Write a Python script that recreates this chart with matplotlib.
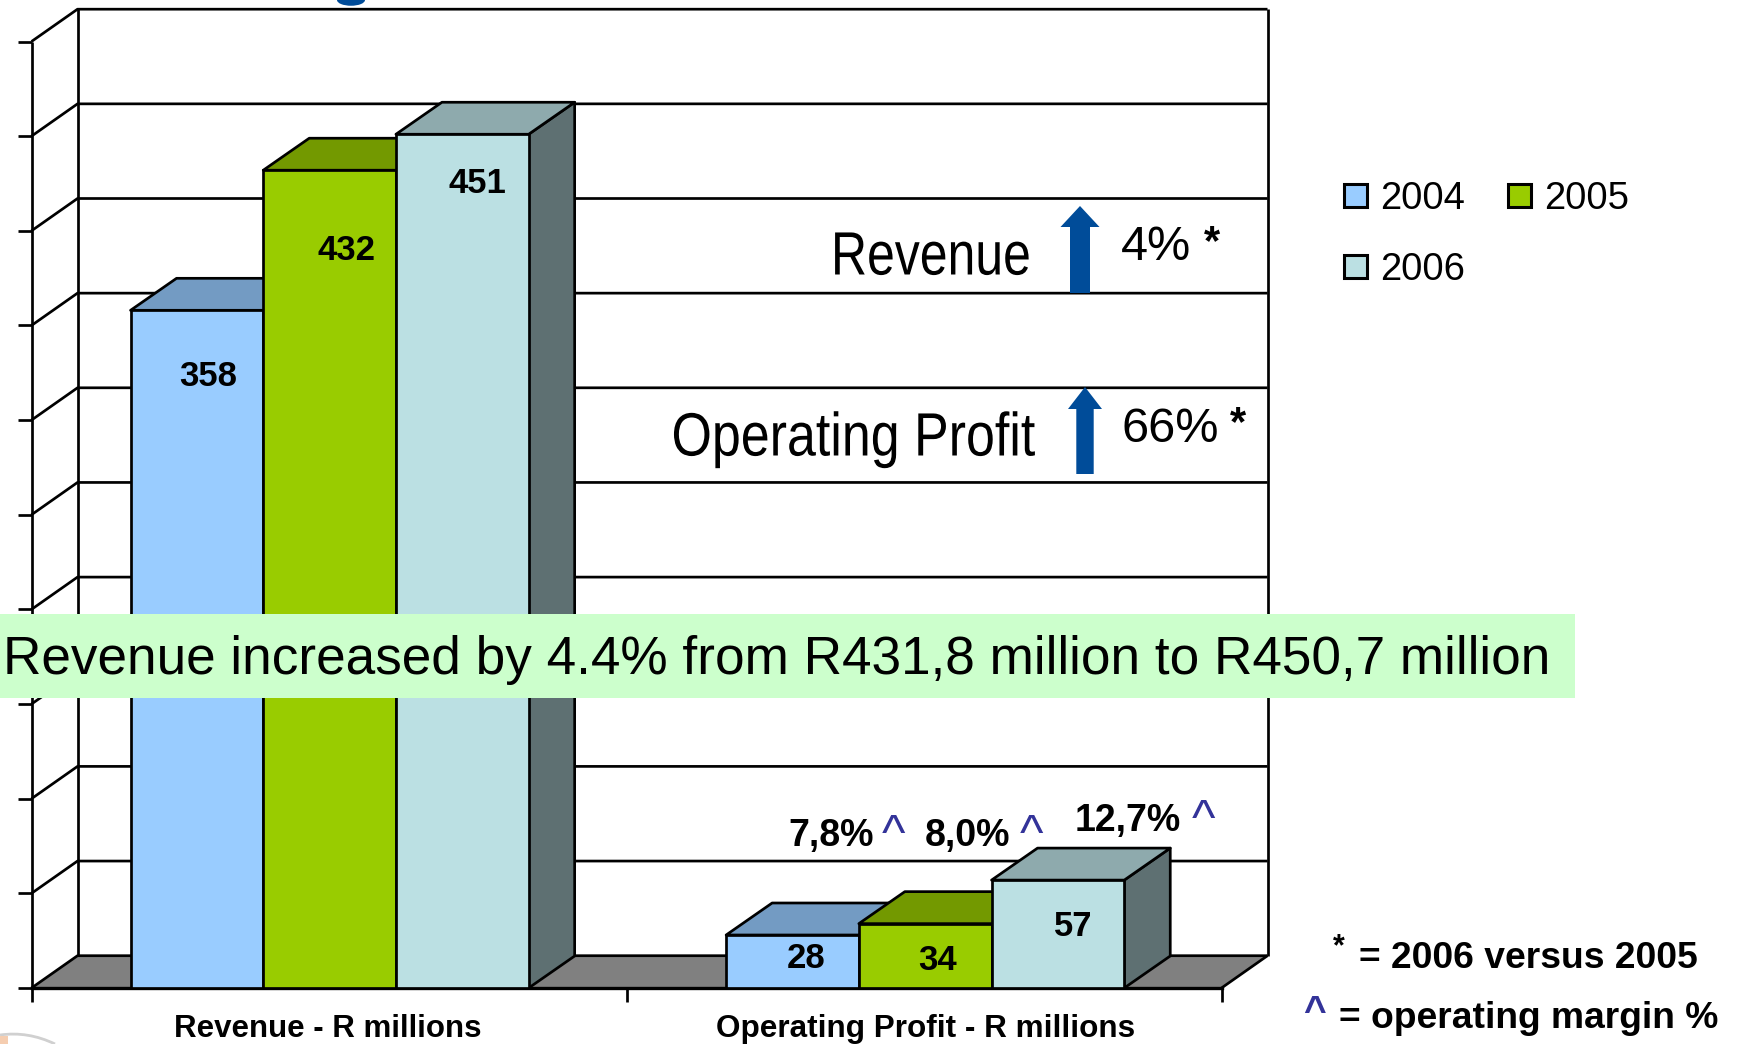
import matplotlib
matplotlib.use("Agg")
import matplotlib.pyplot as plt
from matplotlib.patches import Polygon, Rectangle, PathPatch, Ellipse
from matplotlib.path import Path
from matplotlib.patheffects import AbstractPathEffect
from matplotlib.transforms import Affine2D

W, H = 1738, 1044
categories = ["Revenue - R millions", "Operating Profit - R millions"]
years = ["2004", "2005", "2006"]
values_2004 = [358, 28]
values_2005 = [432, 34]
values_2006 = [451, 57]
margins = ["7,8%", "8,0%", "12,7%"]
y_ticks = list(range(0, 501, 50))

front_colors = ["#99CCFF", "#99CC00", "#BBE0E3"]
top_colors = ["#739BC3", "#739900", "#8EAAAD"]
side_colors = ["#4F6E8E", "#4F6E00", "#5E7072"]

plt.rcParams["font.family"] = ["Liberation Sans", "DejaVu Sans"]


class StretchX(AbstractPathEffect):
    """Condense a text horizontally around its start, as in the reference."""
    def __init__(self, sx):
        super().__init__()
        self.sx = sx

    def draw_path(self, renderer, gc, tpath, affine, rgbFace=None):
        x0 = affine.to_values()[4]
        extra = Affine2D().translate(-x0, 0).scale(self.sx, 1).translate(x0, 0)
        renderer.draw_path(gc, tpath, affine + extra, rgbFace)


fig = plt.figure(figsize=(W / 100, H / 100), dpi=100)
L, R, T, B = 31.5, 1221.5, 41.5, 988.0
ax = fig.add_axes([L / W, 1 - B / H, (R - L) / W, (B - T) / H])
ax.set_xlim(-0.5, 1.5)
ax.set_ylim(0, 500)
ax.axis("off")
ux = (R - L) / 2          # pixels per category
uy = (B - T) / 500        # pixels per value unit
px = Affine2D().scale(1 / W, -1 / H).translate(0, 1) + fig.transFigure

LW = 1.95
wall_dx, wall_dy = 46 / ux, 32.3 / uy
kw = dict(color="black", lw=LW, clip_on=False, solid_capstyle="butt")

# floor
ax.add_patch(Polygon([(-0.5, 0), (1.5, 0), (1.5 + wall_dx, wall_dy), (-0.5 + wall_dx, wall_dy)],
                     closed=True, fc="#808080", ec="none", zorder=1, clip_on=False))
# grid and walls
for v in y_ticks:
    ax.plot([-0.5, -0.5 + wall_dx, 1.5 + wall_dx], [v, v + wall_dy, v + wall_dy], zorder=2, **kw)
    ax.plot([-0.5 - 14 / ux, -0.5], [v, v], zorder=2, **kw)
ax.plot([-0.5, -0.5], [0, 500], zorder=2, **kw)
ax.plot([-0.5 + wall_dx] * 2, [wall_dy, 500 + wall_dy], zorder=2, **kw)
ax.plot([1.5 + wall_dx] * 2, [wall_dy, 500 + wall_dy], zorder=2, **kw)
ax.plot([1.5, 1.5 + wall_dx], [0, wall_dy], zorder=2, **kw)
ax.plot([-0.5, 1.5], [0, 0], zorder=2, color="black", lw=2.4, clip_on=False)
for x in (-0.5, 0.5, 1.5):
    ax.plot([x, x], [0, -14 / uy], zorder=2, **kw)

# bars
bw = 132.7 / ux
bar_dx, bar_dy = 46 / ux, 32 / uy
group_shift = [0.6 / ux, 1.2 / ux]
series = [values_2004, values_2005, values_2006]
z = 3
legend_handles = []
for i, vals in enumerate(series):
    xs = [c + (i - 1) * bw + group_shift[c] for c in range(len(categories))]
    for x, v in zip(xs, vals):
        l, r = x - bw / 2, x + bw / 2
        ax.add_patch(Polygon([(r, 0), (r + bar_dx, bar_dy), (r + bar_dx, v + bar_dy), (r, v)], closed=True,
                             fc=side_colors[i], ec="black", lw=LW, zorder=z, clip_on=False, joinstyle="round"))
        ax.add_patch(Polygon([(l, v), (l + bar_dx, v + bar_dy), (r + bar_dx, v + bar_dy), (r, v)], closed=True,
                             fc=top_colors[i], ec="black", lw=LW, zorder=z, clip_on=False, joinstyle="round"))
    cont = ax.bar(xs, vals, width=bw, color=front_colors[i], edgecolor="black", lw=LW,
                  zorder=z + 0.5, label=years[i], clip_on=False)
    legend_handles.append(cont)
    z += 1

# value labels (pixel layout)
label_pos = [[(208.5, 377), (806, 958)], [(346, 250.5), (938, 960)], [(477, 183.5), (1073, 927)]]
for vals, pos in zip(series, label_pos):
    for v, (x, y) in zip(vals, pos):
        fig.text(x, y, str(v), transform=px, ha="center", va="center", fontsize=25,
                 fontweight="bold", color="black", zorder=20)

for c, x, s in zip(categories, (328, 925.5), (22.5, 22.7)):
    fig.text(x, 1029, c, transform=px, ha="center", va="center", fontsize=s, fontweight="bold")

# margin labels
for m, (x, y), (cx, cy) in zip(margins, [(831, 836), (968, 836), (1128, 821)],
                               [(894, 836), (1031, 836), (1203, 821)]):
    fig.text(x, y, m, transform=px, ha="center", va="center", fontsize=27, fontweight="bold")
    fig.text(cx, cy, "^", transform=px, ha="center", va="center", fontsize=36, color="#333399")

# growth annotations
def arrow(cx, tip, neck, base, hw, sw):
    pts = [(cx, tip), (cx + hw, neck), (cx + sw, neck), (cx + sw, base), (cx - sw, base), (cx - sw, neck), (cx - hw, neck)]
    fig.add_artist(Polygon(pts, closed=True, transform=px, fc="#004C99", ec="none", zorder=15))

arrow(1080, 206, 227, 293, 19.5, 10)
arrow(1085, 387, 409, 474, 17, 8.7)
fig.text(831, 259, "Revenue", transform=px, ha="left", va="center", fontsize=44,
         path_effects=[StretchX(0.817)])
fig.text(671.5, 440, "Operating Profit", transform=px, ha="left", va="center", fontsize=44,
         path_effects=[StretchX(0.85)])
fig.text(1121, 248, "4%", transform=px, ha="left", va="center", fontsize=35)
fig.text(1121, 430, "66%", transform=px, ha="left", va="center", fontsize=35)
fig.text(1212, 243, "*", transform=px, ha="center", va="center", fontsize=30, fontweight="bold")
fig.text(1238, 424, "*", transform=px, ha="center", va="center", fontsize=30, fontweight="bold")

# banner
fig.add_artist(Rectangle((0, 614), 1575, 84, transform=px, fc="#CCFFCC", ec="none", zorder=16))
fig.text(3, 660, "Revenue increased by 4.4% from R431,8 million to R450,7 million", transform=px,
         ha="left", va="center", fontsize=38.25, zorder=17)

# notes
fig.text(1339, 947, "*", transform=px, ha="center", va="center", fontsize=22, fontweight="bold")
fig.text(1359, 959, "= 2006 versus 2005", transform=px, ha="left", va="center", fontsize=26.8, fontweight="bold")
fig.text(1315, 1013, "^", transform=px, ha="center", va="center", fontsize=28, fontweight="bold", color="#333399")
fig.text(1339, 1019, "= operating margin %", transform=px, ha="left", va="center", fontsize=26.8, fontweight="bold")

# clipped remains at the canvas edges
fig.add_artist(Ellipse((351, 0), 28, 11.5, transform=px, fc="#004C99", ec="none"))
fig.add_artist(PathPatch(Path([(0, 1035), (28, 1031), (55, 1044)], [Path.MOVETO, Path.CURVE3, Path.CURVE3]),
                         transform=px, fc="none", ec="#D0D0D0", lw=2))
fig.add_artist(Rectangle((0, 1036), 8, 8, transform=px, fc="#F5CDB0", ec="none"))

# matplotlib fills legend columns first; this order reads 2004, 2005 / 2006 across rows
order = [0, 2, 1]
leg = fig.legend([legend_handles[i] for i in order], [years[i] for i in order], ncol=2, loc="upper left",
                 bbox_to_anchor=(1344 / W, 1 - 181 / H), frameon=False, fontsize=27.5,
                 handlelength=0.6, handleheight=0.52, handletextpad=0.35,
                 columnspacing=1.13, labelspacing=0.92, borderpad=0, borderaxespad=0)
for p in leg.get_patches():
    p.set_linewidth(2.2)

fig.savefig("out.png", dpi=100)
